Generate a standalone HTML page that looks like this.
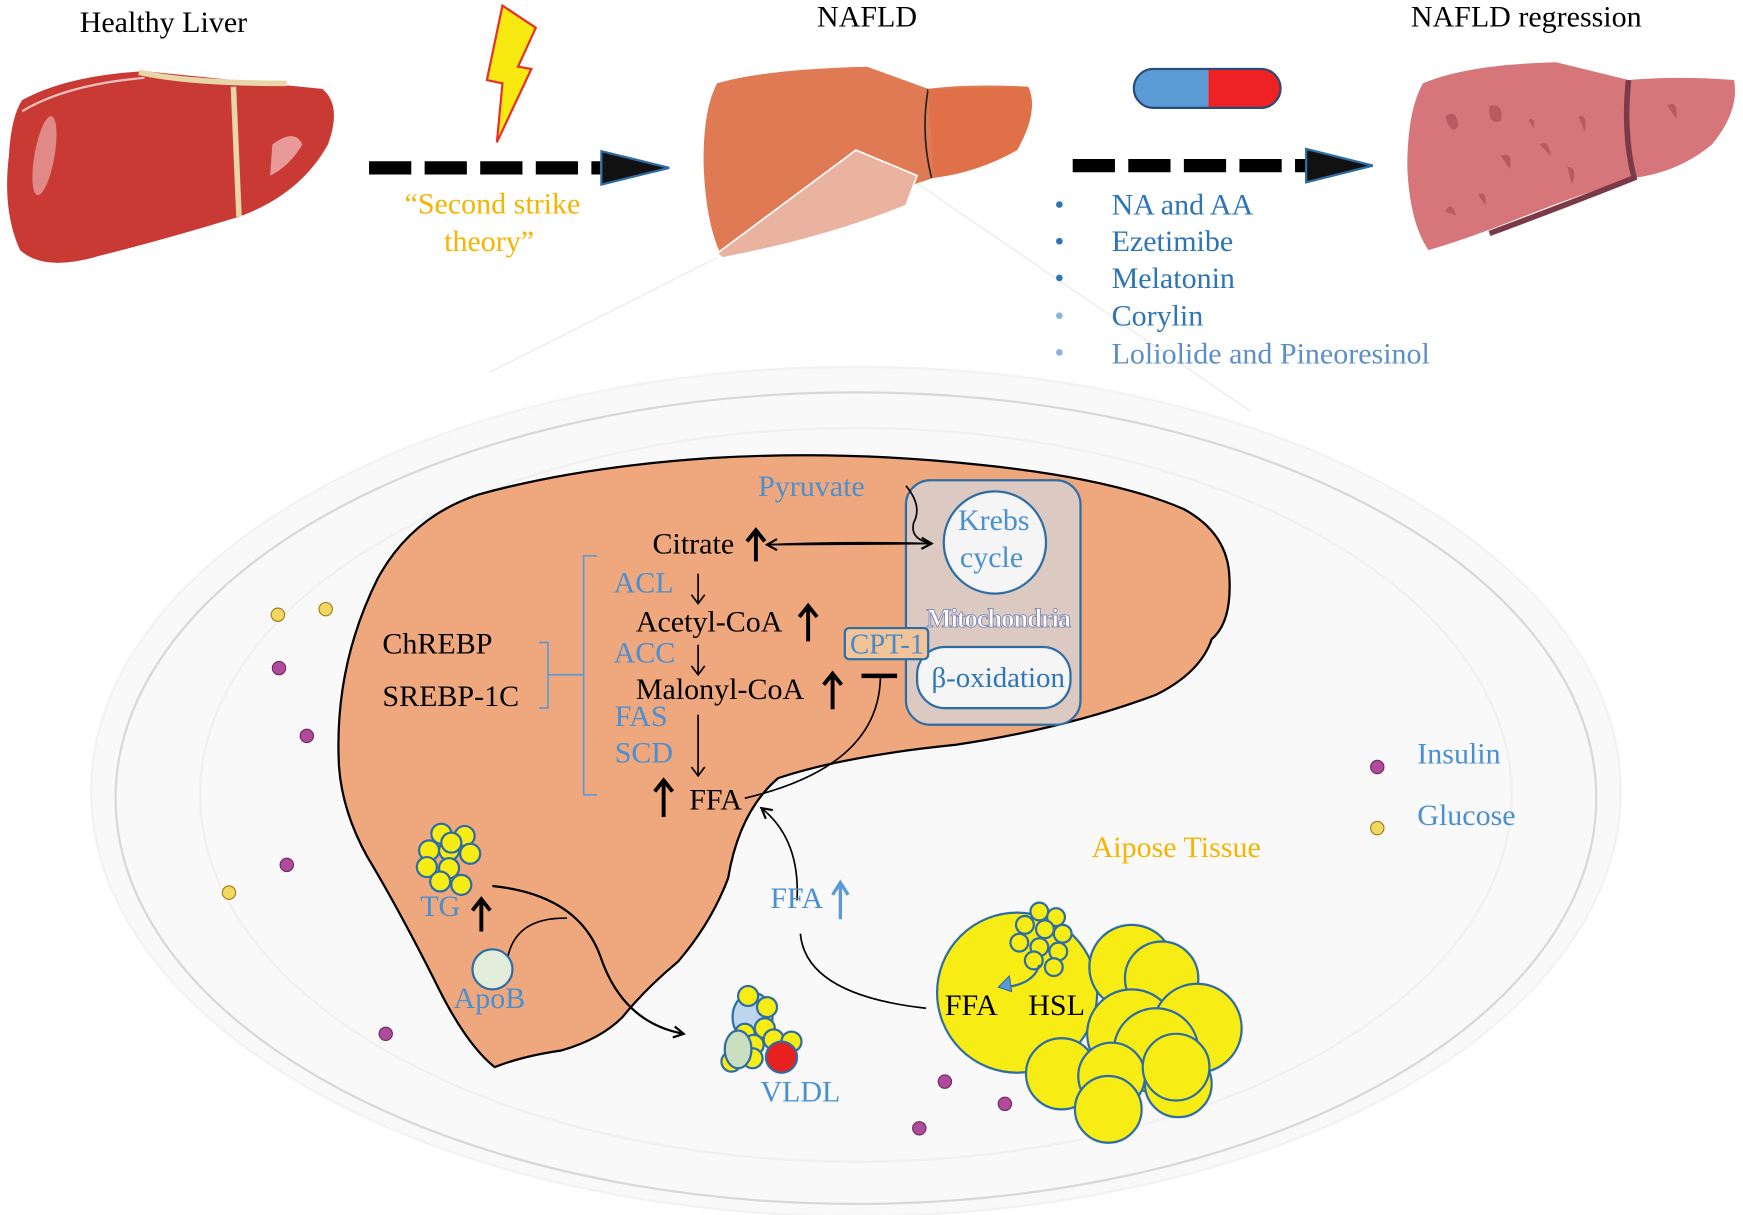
<!DOCTYPE html>
<html><head><meta charset="utf-8"><style>
html,body{margin:0;padding:0;background:#fff;}
svg{display:block;}
text{font-family:"Liberation Serif",serif;}
</style></head><body>
<svg width="1743" height="1215" viewBox="0 0 1568 1093" xmlns="http://www.w3.org/2000/svg">
<defs>
<marker id="ah" markerWidth="12" markerHeight="12" refX="10" refY="6" orient="auto" markerUnits="userSpaceOnUse"><path d="M1,1 L10,6 L1,11" fill="none" stroke="#000" stroke-width="2"/></marker>
</defs>
<rect width="1568" height="1093" fill="#fff"/>
<!-- titles -->
<text x="147" y="29" font-size="27" text-anchor="middle">Healthy Liver</text>
<text x="780" y="24" font-size="27" text-anchor="middle">NAFLD</text>
<text x="1373" y="24" font-size="27" text-anchor="middle">NAFLD regression</text>

<!-- healthy liver -->
<path d="M20,90 Q60,68 130,64 L290,80 Q308,95 295,130 Q270,175 215,195 Q150,215 90,230 Q40,245 18,225 Q2,190 8,140 Q10,105 20,90Z" fill="#c93a35"/>
<path d="M210,78 L215,195" stroke="#e8d6a8" stroke-width="5"/>
<path d="M125,65 Q170,75 258,75" stroke="#e8d6a8" stroke-width="5" fill="none"/>
<ellipse cx="40" cy="140" rx="9" ry="36" fill="#e08a88" transform="rotate(10 40 140)"/>
<path d="M245,130 Q265,115 272,130 Q260,150 243,158Z" fill="#e89a98"/>
<path d="M20,100 Q60,76 130,70" stroke="#f3c0c0" stroke-width="2" fill="none"/>

<!-- lightning -->
<path d="M452,5 L482,25 L466,60 L478,62 L447,128 L452,75 L438,72 Z" fill="#f8ea10" stroke="#e8302a" stroke-width="2"/>

<!-- dashed arrow 1 -->
<line x1="332" y1="151" x2="540" y2="151" stroke="#000" stroke-width="12" stroke-dasharray="38,12"/>
<path d="M541,136 L602,151 L541,166 Z" fill="#111" stroke="#2e6da4" stroke-width="2"/>
<text x="443" y="192" font-size="27" fill="#f5b400" text-anchor="middle">“Second strike</text>
<text x="440" y="226" font-size="27" fill="#f5b400" text-anchor="middle">theory”</text>

<!-- NAFLD liver -->
<path d="M645,75 Q690,62 780,60 L835,80 Q870,75 925,78 Q935,100 915,135 Q880,155 840,160 L825,165 Q790,180 740,195 Q690,215 648,228 Q635,200 633,150 Q632,100 645,75Z" fill="#e07a55"/>
<path d="M835,80 Q828,120 838,160" stroke="#222" stroke-width="1.5" fill="none"/>
<path d="M835,80 L925,78 Q935,100 915,135 Q880,155 840,160Z" fill="#e07048"/>
<path d="M645,228 L770,135 L825,158 L815,185 Q740,215 650,232Z" fill="#eab39f" stroke="#fff" stroke-width="1.5"/>
<path d="M645,232 L440,335" stroke="#e8e8e8" stroke-width="1"/>
<path d="M825,165 L1125,370" stroke="#e8e8e8" stroke-width="1"/>

<!-- pill -->
<path d="M1037,62 L1087,62 L1087,97 L1037,97 A17.5,17.5 0 0 1 1037,62Z" fill="#5b9bd5"/>
<path d="M1087,62 L1135,62 A17.5,17.5 0 0 1 1135,97 L1087,97Z" fill="#ee2222"/>
<rect x="1020" y="62" width="132" height="35" rx="17.5" fill="none" stroke="#2a4a7a" stroke-width="2"/>

<!-- dashed arrow 2 -->
<line x1="965" y1="149" x2="1175" y2="149" stroke="#000" stroke-width="12" stroke-dasharray="38,12"/>
<path d="M1175,134 L1235,149 L1175,164 Z" fill="#111" stroke="#2e6da4" stroke-width="2"/>

<!-- bullets -->
<g font-size="27" fill="#2e75b6">
<circle cx="953" cy="184" r="3" fill="#2e75b6"/><text x="1000" y="193">NA and AA</text>
<circle cx="953" cy="217" r="3" fill="#2e75b6"/><text x="1000" y="226">Ezetimibe</text>
<circle cx="953" cy="250" r="3" fill="#2e75b6"/><text x="1000" y="259">Melatonin</text>
<circle cx="953" cy="284" r="3" fill="#8db4dc"/><text x="1000" y="293">Corylin</text>
<circle cx="953" cy="317" r="3" fill="#8db4dc"/><text x="1000" y="327" fill="#5b8fc8">Loliolide and Pineoresinol</text>
</g>

<!-- regression liver -->
<path d="M1280,75 Q1320,58 1400,56 L1465,72 Q1510,68 1560,72 Q1565,100 1540,130 Q1510,155 1470,160 Q1420,175 1370,195 Q1320,215 1285,225 Q1268,200 1266,150 Q1266,100 1280,75Z" fill="#d6767a"/>
<path d="M1465,72 Q1460,120 1470,160 Q1420,180 1340,210" stroke="#7a3a48" stroke-width="5" fill="none"/>
<g fill="#b85a60">
<path d="M1300,105 q10,-8 12,8 q-6,10 -12,-8z"/><path d="M1340,95 q14,-2 10,14 q-12,4 -10,-14z"/><path d="M1350,140 q12,-4 8,12z"/>
<path d="M1385,130 q8,-6 10,10z"/><path d="M1410,150 q10,0 4,16z"/><path d="M1300,190 q6,-10 10,4z"/><path d="M1330,175 q8,-4 6,10z"/>
<path d="M1420,105 q8,-4 6,14z"/><path d="M1500,95 q10,-6 8,12z"/><path d="M1375,108 q6,-4 5,8z"/>
</g>

<!-- big ellipse -->
<ellipse cx="770" cy="712" rx="688" ry="382" fill="#f9f9f9" stroke="#f2f2f2" stroke-width="2"/>
<ellipse cx="770" cy="718" rx="666" ry="365" fill="#f9f9f9" stroke="#d8d8d8" stroke-width="2"/>
<ellipse cx="770" cy="715" rx="590" ry="330" fill="none" stroke="#f0f0f0" stroke-width="2"/>

<!-- big liver -->
<path d="M305,690 Q300,600 340,520 Q370,465 430,445 Q520,420 640,412 Q760,405 880,418 Q1000,430 1065,458 Q1105,480 1106,520 Q1108,560 1090,575 Q1080,605 1040,625 Q960,655 860,670 Q760,680 700,700 Q665,730 655,790 Q640,830 610,865 Q580,890 560,915 Q540,935 505,945 Q470,950 445,960 Q420,940 395,890 Q360,820 330,770 Q308,730 305,690Z" fill="#efa77d" stroke="#000" stroke-width="2"/>

<!-- mitochondria -->
<rect x="815" y="432" width="157" height="220" rx="22" fill="#dcc9c2" stroke="#2e6da4" stroke-width="2"/>
<circle cx="895" cy="488" r="46" fill="#f5f5f5" stroke="#2e6da4" stroke-width="2"/>
<text x="894" y="477" font-size="27" fill="#4a90d0" text-anchor="middle">Krebs</text>
<text x="892" y="510" font-size="27" fill="#4a90d0" text-anchor="middle">cycle</text>
<text x="898" y="564" font-size="24" font-weight="bold" fill="#fff" stroke="#6a78b0" stroke-width="0.7" text-anchor="middle" letter-spacing="-1">Mitochondria</text>
<rect x="825" y="582" width="138" height="55" rx="25" fill="#f5f5f5" stroke="#2e6da4" stroke-width="2"/>
<text x="898" y="618" font-size="26" fill="#2e75b6" text-anchor="middle">β-oxidation</text>
<rect x="760" y="565" width="75" height="28" rx="4" fill="#f2c49a" stroke="#2e6da4" stroke-width="2"/>
<text x="798" y="588" font-size="26" fill="#4a8ac8" text-anchor="middle">CPT-1</text>

<!-- pathway text -->
<g font-size="27">
<text x="682" y="446" fill="#4a90d0">Pyruvate</text>
<text x="587" y="498">Citrate</text>
<text x="552" y="533" fill="#4a90d0">ACL</text>
<text x="572" y="568">Acetyl-CoA</text>
<text x="552" y="596" fill="#4a90d0">ACC</text>
<text x="572" y="629">Malonyl-CoA</text>
<text x="553" y="653" fill="#4a90d0">FAS</text>
<text x="553" y="686" fill="#4a90d0">SCD</text>
<text x="620" y="728">FFA</text>
<text x="344" y="588">ChREBP</text>
<text x="344" y="635">SREBP-1C</text>
</g>
<!-- brackets -->
<path d="M537,500 L525,500 L525,715 L537,715" stroke="#5b9bd5" stroke-width="1.5" fill="none"/>
<path d="M485,578 L493,578 L493,637 L485,637 M493,607 L525,607" stroke="#5b9bd5" stroke-width="1.5" fill="none"/>
<!-- thin arrows -->
<g stroke="#000" stroke-width="1.5" fill="none">
<path d="M628,516 L628,543 M622,535 L628,543 L634,535"/>
<path d="M628,580 L628,607 M622,599 L628,607 L634,599"/>
<path d="M628,643 L628,698 M622,690 L628,698 L634,690"/>
<path d="M690,490 Q760,487 838,489" marker-end="url(#ah)" />
<path d="M838,489 L690,490" marker-end="url(#ah)"/>
<path d="M815,437 Q830,455 822,470 Q818,485 838,489"/>
<path d="M792,610 Q790,690 670,718"/>
<path d="M717,810 Q720,755 685,727" marker-end="url(#ah)"/>
<path d="M720,840 Q725,895 833,907"/>
<path d="M443,797 Q520,805 540,860 Q560,920 615,930" stroke-width="2" marker-end="url(#ah)"/>
<path d="M457,860 Q465,825 510,826" />
</g>
<line x1="775" y1="608" x2="807" y2="608" stroke="#000" stroke-width="4"/>
<!-- bold up arrows -->
<g stroke="#000" stroke-width="3.5" fill="none">
<path d="M680,505 L680,478 M672,487 L680,477 L688,487"/>
<path d="M727,577 L727,546 M719,555 L727,545 L735,555"/>
<path d="M749,638 L749,607 M741,616 L749,606 L757,616"/>
<path d="M597,735 L597,703 M589,712 L597,702 L605,712"/>
<path d="M433,838 L433,810 M425,819 L433,809 L441,819"/>
</g>
<text x="693" y="817" font-size="27" fill="#4a90d0">FFA</text>
<path d="M756,827 L756,795 M749,805 L756,794 L763,805" stroke="#5b9bd5" stroke-width="3" fill="none"/>

<!-- TG cluster -->
<g fill="#f7ec14" stroke="#2e6da4" stroke-width="2">
<circle cx="397" cy="750" r="9"/><circle cx="418" cy="752" r="9"/><circle cx="386" cy="765" r="9"/><circle cx="404" cy="765" r="9"/><circle cx="423" cy="768" r="9"/><circle cx="384" cy="780" r="9"/><circle cx="404" cy="781" r="9"/><circle cx="396" cy="793" r="9"/><circle cx="415" cy="796" r="9"/><circle cx="406" cy="758" r="9"/>
</g>
<text x="378" y="824" font-size="27" fill="#4a90d0">TG</text>
<circle cx="443" cy="872" r="18" fill="#e2eedb" stroke="#2e6da4" stroke-width="2"/>
<text x="408" y="907" font-size="27" fill="#4a90d0">ApoB</text>

<!-- VLDL -->
<g stroke="#2e6da4" stroke-width="2">
<ellipse cx="677" cy="915" rx="18" ry="22" fill="#bcd6ee"/>
<g fill="#f7ec14">
<circle cx="673" cy="896" r="9"/><circle cx="690" cy="906" r="9"/><circle cx="688" cy="925" r="9"/><circle cx="670" cy="930" r="9"/><circle cx="678" cy="940" r="9"/><circle cx="696" cy="935" r="9"/><circle cx="712" cy="937" r="9"/><circle cx="658" cy="955" r="9"/><circle cx="677" cy="952" r="9"/>
</g>
<ellipse cx="664" cy="944" rx="12" ry="17" fill="#c9dfc0"/>
<circle cx="703" cy="951" r="14" fill="#e82020"/>
</g>
<text x="684" y="991" font-size="27" fill="#4a90d0">VLDL</text>

<!-- adipose -->
<g fill="#f7ec14" stroke="#2e6da4" stroke-width="2">
<circle cx="915" cy="893" r="72"/>
<circle cx="1018" cy="870" r="38"/><circle cx="1045" cy="880" r="33"/>
<circle cx="1018" cy="930" r="40"/><circle cx="1077" cy="925" r="40"/>
<circle cx="1040" cy="945" r="38"/><circle cx="955" cy="966" r="32"/>
<circle cx="1000" cy="968" r="30"/><circle cx="1060" cy="975" r="30"/>
<circle cx="997" cy="998" r="30"/><circle cx="1058" cy="960" r="30"/>
</g>
<g fill="#f7ec14" stroke="#2e6da4" stroke-width="2">
<circle cx="935" cy="820" r="8"/><circle cx="950" cy="825" r="8"/><circle cx="922" cy="832" r="8"/><circle cx="940" cy="836" r="8"/><circle cx="956" cy="840" r="8"/><circle cx="917" cy="848" r="8"/><circle cx="935" cy="852" r="8"/><circle cx="952" cy="856" r="8"/><circle cx="930" cy="864" r="8"/><circle cx="948" cy="870" r="8"/>
</g>
<path d="M935,868 Q930,885 905,888" stroke="#2e6da4" stroke-width="2" fill="none"/>
<path d="M898,888 L908,878 L910,892Z" fill="#5b9bd5" stroke="#2e6da4" stroke-width="1"/>
<text x="850" y="913" font-size="27">FFA</text>
<text x="925" y="913" font-size="27">HSL</text>
<text x="982" y="771" font-size="27" fill="#f5b400">Aipose Tissue</text>

<!-- dots -->
<g stroke="#a07818" stroke-width="1" fill="#f2d860">
<circle cx="250" cy="553" r="6"/><circle cx="293" cy="548" r="6"/><circle cx="206" cy="803" r="6"/><circle cx="1239" cy="745" r="6"/>
</g>
<g stroke="#6a2a60" stroke-width="1" fill="#b04a9a">
<circle cx="251" cy="601" r="6"/><circle cx="276" cy="662" r="6"/><circle cx="258" cy="778" r="6"/><circle cx="347" cy="930" r="6"/><circle cx="850" cy="973" r="6"/><circle cx="904" cy="993" r="6"/><circle cx="827" cy="1015" r="6"/><circle cx="1239" cy="690" r="6"/>
</g>
<text x="1275" y="687" font-size="27" fill="#4a90d0">Insulin</text>
<text x="1275" y="742" font-size="27" fill="#4a90d0">Glucose</text>
</svg>
</body></html>
